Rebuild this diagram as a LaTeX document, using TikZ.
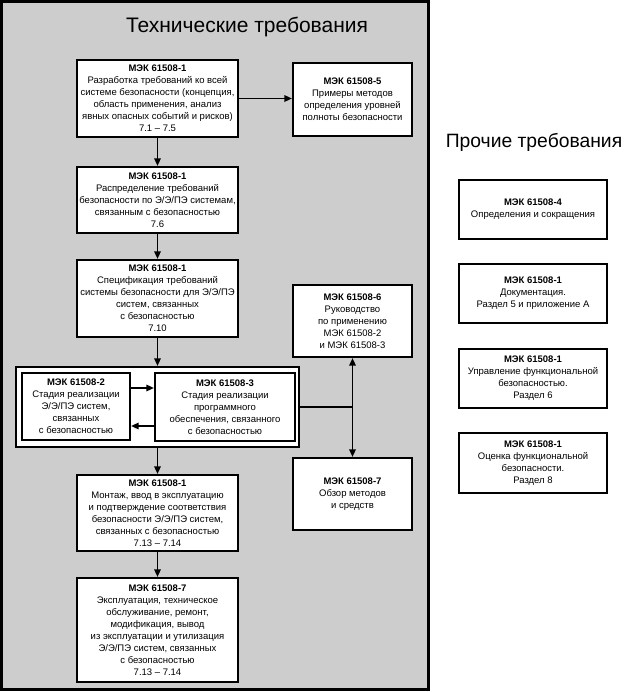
\documentclass[tikz,border=0pt]{standalone}
\usepackage{fontspec}
\setmainfont{Liberation Sans}
\usetikzlibrary{arrows.meta,calc}
\definecolor{panelgray}{HTML}{CDCDCD}
\tikzset{
  box/.style={draw=black,line width=2.2pt,fill=white,inner sep=0pt,align=center,
    font=\fontsize{9.5}{12}\selectfont},
  arr/.style={line width=1.5pt,-{Triangle[length=7.5pt,width=6.5pt]}},
  darr/.style={line width=1.5pt,{Triangle[length=7.5pt,width=6.5pt]}-{Triangle[length=7.5pt,width=6.5pt]}},
  ln/.style={line width=1.5pt},
}
\newcommand{\hd}[1]{\textbf{#1}}
\begin{document}
\begin{tikzpicture}[x=1pt,y=-1pt]
\useasboundingbox (0,0) rectangle (623,692);
\node[draw=black,line width=2.2pt,fill=panelgray,minimum width=427pt,minimum height=688pt,inner sep=0] (panel) at (215,345.5) {};
\node[font=\fontsize{21}{24}\selectfont] (t1) at (247,27) {Технические требования};
\node[font=\fontsize{19.3}{22}\selectfont] (t2) at (534,142) {Прочие требования};

\node[box,minimum width=161pt,minimum height=77pt] (a1) at (157.5,98.5) {\hd{МЭК 61508-1}\\Разработка требований ко всей\\системе безопасности (концепция,\\область применения, анализ\\явных опасных событий и рисков)\\7.1 – 7.5};
\node[box,minimum width=119pt,minimum height=73pt] (a5) at (352.5,99.5) {\hd{МЭК 61508-5}\\Примеры методов\\определения уровней\\полноты безопасности};
\node[box,minimum width=161pt,minimum height=66pt] (a2) at (157.5,200) {\hd{МЭК 61508-1}\\Распределение требований\\безопасности по Э/Э/ПЭ системам,\\связанным с безопасностью\\7.6};
\node[box,minimum width=161pt,minimum height=77pt] (a3) at (157.5,298.5) {\hd{МЭК 61508-1}\\Спецификация требований\\системы безопасности для Э/Э/ПЭ\\систем, связанных\\с безопасностью\\7.10};
\node[box,minimum width=119pt,minimum height=72pt] (a6) at (352.5,321) {\hd{МЭК 61508-6}\\Руководство\\по применению\\МЭК 61508-2\\и МЭК 61508-3};
\node[box,minimum width=283pt,minimum height=80pt] (fr) at (157.5,407) {};
\node[box,minimum width=108pt,minimum height=67pt] (b2) at (76,406.5) {\hd{МЭК 61508-2}\\Стадия реализации\\Э/Э/ПЭ систем,\\связанных\\с безопасностью};
\node[box,minimum width=140pt,minimum height=68pt] (b3) at (225,407) {\hd{МЭК 61508-3}\\Стадия реализации\\программного\\обеспечения, связанного\\с безопасностью};
\node[box,minimum width=161pt,minimum height=76pt] (a4) at (157.5,513) {\hd{МЭК 61508-1}\\Монтаж, ввод в эксплуатацию\\и подтверждение соответствия\\безопасности Э/Э/ПЭ систем,\\связанных с безопасностью\\7.13 – 7.14};
\node[box,minimum width=119pt,minimum height=72pt] (a7) at (352.5,494) {\hd{МЭК 61508-7}\\Обзор методов\\и средств};
\node[box,minimum width=161pt,minimum height=104pt] (a8) at (157.5,630) {\hd{МЭК 61508-7}\\Эксплуатация, техническое\\обслуживание, ремонт,\\модификация, вывод\\из эксплуатации и утилизация\\Э/Э/ПЭ систем, связанных\\с безопасностью\\7.13 – 7.14};

\node[box,minimum width=148pt,minimum height=59pt] (r1) at (533,209.5) {\hd{МЭК 61508-4}\\Определения и сокращения};
\node[box,minimum width=148pt,minimum height=59pt] (r2) at (533,293.5) {\hd{МЭК 61508-1}\\Документация.\\Раздел 5 и приложение А};
\node[box,minimum width=148pt,minimum height=59pt] (r3) at (533,378.5) {\hd{МЭК 61508-1}\\Управление функциональной\\безопасностью.\\Раздел 6};
\node[box,minimum width=148pt,minimum height=60pt] (r4) at (533,463) {\hd{МЭК 61508-1}\\Оценка функциональной\\безопасности.\\Раздел 8};

\draw[arr] (a1.east) -- (a1.east -| a5.west);
\draw[arr] (a1.south) -- (a2.north);
\draw[arr] (a2.south) -- (a3.north);
\draw[arr] (a3.south) -- (fr.north);
\draw[arr] (fr.south) -- (a4.north);
\draw[arr] (a4.south) -- (a8.north);
\coordinate (yup) at (0,388);
\coordinate (ydn) at (0,426);
\draw[arr] (b2.east |- yup) -- (b3.west |- yup);
\draw[arr] (b3.west |- ydn) -- (b2.east |- ydn);
\draw[ln] (fr.east) -- (fr.east -| a6.south);
\draw[darr] (a6.south) -- (a7.north);
\end{tikzpicture}
\end{document}
